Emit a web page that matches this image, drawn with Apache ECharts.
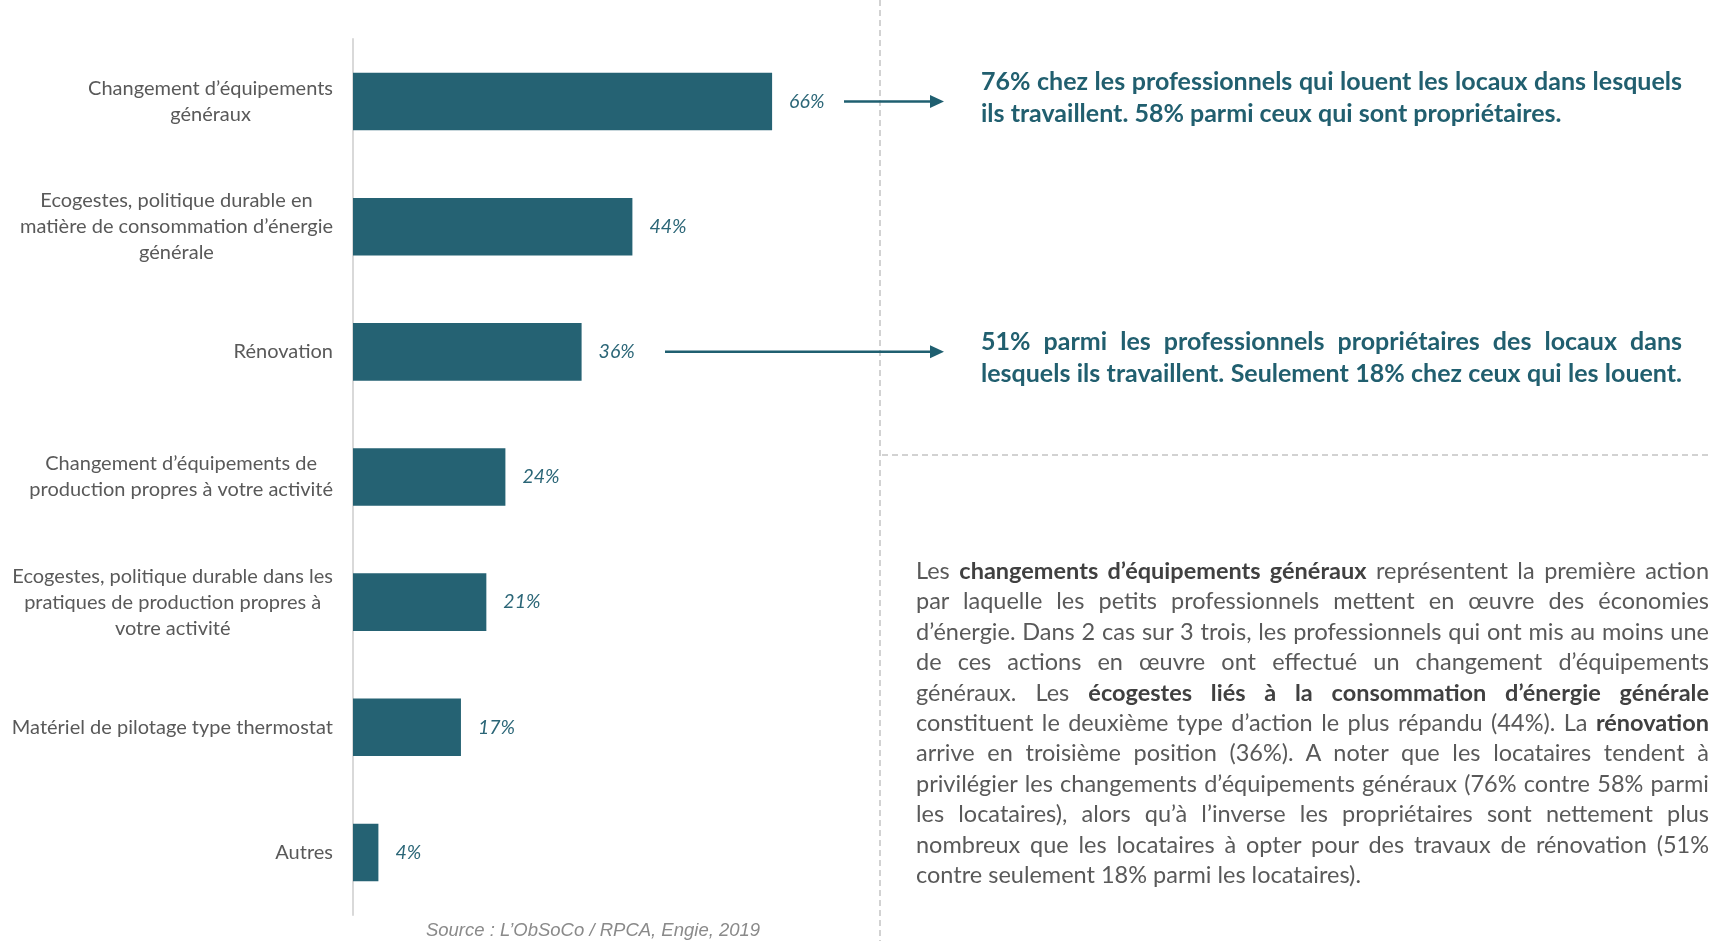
<!DOCTYPE html>
<html>
<head>
<meta charset="utf-8">
<script src="https://cdn.jsdelivr.net/npm/echarts@6/dist/echarts.min.js"></script>
<style>
  html, body { margin: 0; padding: 0; background: #fff; }
  #wrap { position: relative; width: 1729px; height: 941px; overflow: hidden; }
  #chart { position: absolute; left: 0; top: 0; width: 1729px; height: 941px; }
  .note { position: absolute; color: #215f6f; font-family: Lato, "Noto Sans", sans-serif; font-weight: 700; }
  .para { position: absolute; color: #595959; font-family: Lato, "Noto Sans", sans-serif; }
  .ln { white-space: nowrap; text-align: justify; text-align-last: justify; }
  .ln.last { text-align-last: left; }
  .measure .ln { display: inline-block; text-align-last: left; }
  .para b { color: #404040; }
</style>
</head>
<body>
<div id="wrap">
  <div id="chart"></div>
  <div class="note" style="left:981px; top:64px; width:701px; line-height:32px;">
    <div class="ln">76% chez les professionnels qui louent les locaux dans lesquels</div>
    <div class="ln last">ils travaillent. 58% parmi ceux qui sont propriétaires.</div>
  </div>
  <div class="note" style="left:981px; top:324px; width:701px; line-height:32px;">
    <div class="ln">51% parmi les professionnels propriétaires des locaux dans</div>
    <div class="ln">lesquels ils travaillent. Seulement 18% chez ceux qui les louent.</div>
  </div>
  <div class="para" style="left:916px; top:555px; width:793px; line-height:30.4px;">
    <div class="ln">Les <b>changements d’équipements généraux</b> représentent la première action</div>
    <div class="ln">par laquelle les petits professionnels mettent en œuvre des économies</div>
    <div class="ln">d’énergie. Dans 2 cas sur 3 trois, les professionnels qui ont mis au moins une</div>
    <div class="ln">de ces actions en œuvre ont effectué un changement d’équipements</div>
    <div class="ln">généraux. Les <b>écogestes liés à la consommation d’énergie générale</b></div>
    <div class="ln">constituent le deuxième type d’action le plus répandu (44%). La <b>rénovation</b></div>
    <div class="ln">arrive en troisième position (36%). A noter que les locataires tendent à</div>
    <div class="ln">privilégier les changements d’équipements généraux (76% contre 58% parmi</div>
    <div class="ln">les locataires), alors qu’à l’inverse les propriétaires sont nettement plus</div>
    <div class="ln">nombreux que les locataires à opter pour des travaux de rénovation (51%</div>
    <div class="ln last">contre seulement 18% parmi les locataires).</div>
  </div>
</div>
<script>
// categories, top to bottom
const categories = [
  'Changement d’équipements\ngénéraux',
  'Ecogestes, politique durable en\nmatière de consommation d’énergie\ngénérale',
  'Rénovation',
  'Changement d’équipements de\nproduction propres à votre activité',
  'Ecogestes, politique durable dans les\npratiques de production propres à\nvotre activité',
  'Matériel de pilotage type thermostat',
  'Autres'
]
const shares = [66, 44, 36, 24, 21, 17, 4]
const sourceText = 'Source : L’ObSoCo / RPCA, Engie, 2019'

// shrink a group of justified text blocks so its widest line still fits
function fitText (blocks, size, width) {
  let widest = 0
  blocks.forEach(b => {
    b.style.fontSize = size + 'px'
    b.classList.add('measure')
    b.querySelectorAll('.ln').forEach(ln => { widest = Math.max(widest, ln.offsetWidth) })
  })
  const s = widest > width ? size * width / widest - 0.1 : size
  blocks.forEach(b => {
    b.classList.remove('measure')
    b.style.fontSize = s + 'px'
  })
}
fitText([...document.querySelectorAll('.note')], 25, 701)
fitText([...document.querySelectorAll('.para')], 23.5, 793)

// category labels: block flush right against the axis, lines centred inside it
const labelFont = '20px Lato, "Noto Sans", sans-serif'
const ctx = document.createElement('canvas').getContext('2d')
ctx.font = labelFont
const categoryItems = categories.map(c => {
  const w = Math.max(...c.split('\n').map(s => ctx.measureText(s).width))
  return { value: c, textStyle: { align: 'center', padding: [0, w, 0, 0] } }
})

const teal = '#256273'
const myChart = echarts.init(document.getElementById('chart'))

myChart.setOption({
  animation: false,
  textStyle: { fontFamily: 'Lato, "Noto Sans", sans-serif' },
  grid: { left: 353, right: 741, top: 39, bottom: 26 },
  xAxis: {
    type: 'value',
    min: 0,
    max: 100,
    show: false
  },
  yAxis: {
    type: 'category',
    inverse: true,
    data: categoryItems,
    axisLine: { lineStyle: { color: '#d9d9d9', width: 2 } },
    axisTick: { length: 5, lineStyle: { color: '#d9d9d9', width: 2 } },
    axisLabel: {
      margin: 20,
      color: '#595959',
      fontSize: 20,
      lineHeight: 26
    }
  },
  series: [
    {
      type: 'bar',
      data: shares,
      barWidth: '46%',
      itemStyle: { color: teal },
      label: {
        show: true,
        position: 'right',
        distance: 17,
        formatter: '{c}%',
        fontStyle: 'italic',
        fontSize: 19.5,
        color: '#2b6677'
      }
    }
  ]
})

// annotations: arrows tied to the bars they comment on
const y1 = myChart.convertToPixel({ yAxisIndex: 0 }, categories[0])
const y3 = myChart.convertToPixel({ yAxisIndex: 0 }, categories[2])
const arrow = (x0, y) => [
  { type: 'line', shape: { x1: x0, y1: y, x2: 934, y2: y }, style: { stroke: '#1f5f70', lineWidth: 2.5 } },
  { type: 'polygon', shape: { points: [[930, y - 6.5], [944, y], [930, y + 6.5]] }, style: { fill: '#1f5f70' } }
]

myChart.setOption({
  graphic: [
    { type: 'line', shape: { x1: 880, y1: 0, x2: 880, y2: 941 }, style: { stroke: '#c4c4c4', lineWidth: 1.5, lineDash: [6, 4] } },
    { type: 'line', shape: { x1: 882, y1: 455, x2: 1709, y2: 455 }, style: { stroke: '#c4c4c4', lineWidth: 1.5, lineDash: [6, 4] } },
    ...arrow(844, y1),
    ...arrow(665, y3),
    {
      type: 'text',
      x: 593,
      y: 931,
      style: {
        text: sourceText,
        fill: '#8a8a8a',
        font: 'italic 18.5px "Liberation Sans", Arial, sans-serif',
        textAlign: 'center',
        textVerticalAlign: 'middle'
      }
    }
  ]
})
</script>
</body>
</html>
